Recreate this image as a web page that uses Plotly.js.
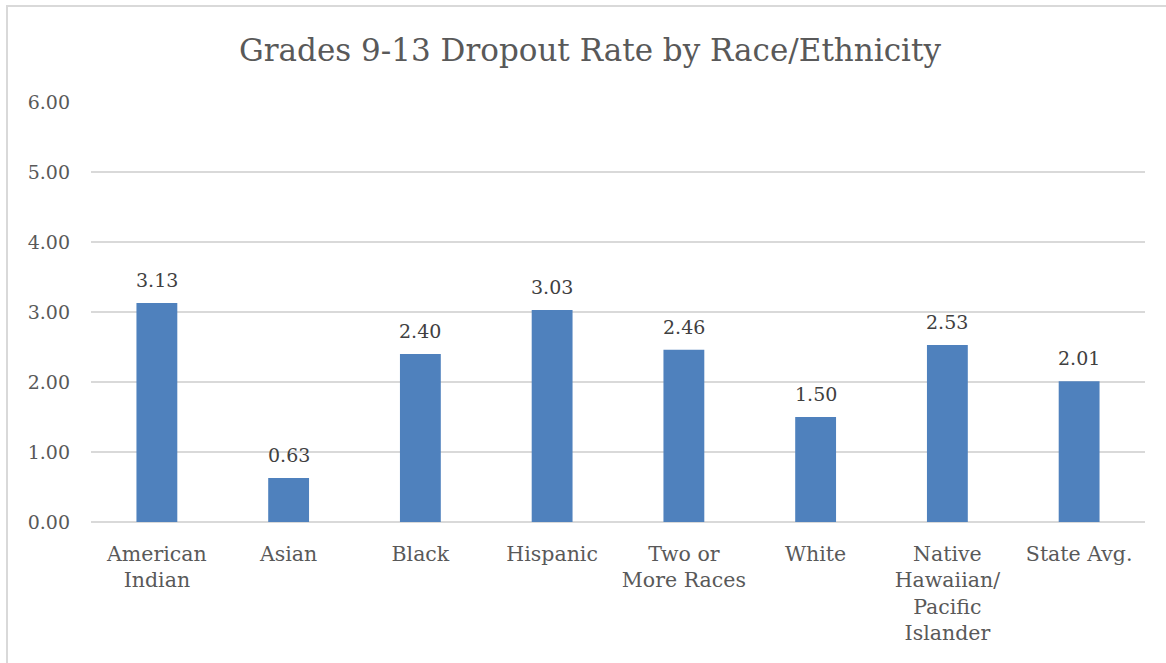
<!DOCTYPE html>
<html>
<head>
<meta charset="utf-8">
<script src="https://cdn.plot.ly/plotly-3.0.1.min.js"></script>
<style>
  html, body { margin: 0; padding: 0; background: #fff; overflow: hidden; }
  #chart { width: 1166px; height: 663px; }
  #frame { position: absolute; left: 6px; top: 5px; width: 2000px; height: 2000px;
           border: 2px solid #d9d9d9; pointer-events: none; }
</style>
</head>
<body>
<div id="chart"></div>
<div id="frame"></div>
<script>
const categories = ["American<br>Indian", "Asian", "Black", "Hispanic", "Two or<br>More Races", "White", "Native<br>Hawaiian/<br>Pacific<br>Islander", "State Avg."];
const dropoutRates = [3.13, 0.63, 2.40, 3.03, 2.46, 1.50, 2.53, 2.01];
const yTickValues = [0, 1, 2, 3, 4, 5, 6];

const FONT = "DejaVu Serif, Cambria, serif";
const TEXT = "#595959";

const trace = {
  type: "bar",
  x: categories,
  y: dropoutRates,
  marker: { color: "#4f81bd" },
  hoverinfo: "x+y"
};

const labelAnnotations = categories.map((c, i) => ({
  x: c,
  y: dropoutRates[i],
  xref: "x",
  yref: "y",
  text: dropoutRates[i].toFixed(2),
  showarrow: false,
  yanchor: "bottom",
  yshift: 10,
  font: { family: FONT, size: 19, color: "#404040" }
}));

const layout = {
  width: 1166,
  height: 663,
  margin: { l: 91, r: 21, t: 102, b: 141 },
  paper_bgcolor: "#ffffff",
  plot_bgcolor: "#ffffff",
  font: { family: FONT, color: TEXT, size: 19 },
  title: {
    text: "Grades 9-13 Dropout Rate by Race/Ethnicity",
    font: { family: FONT, size: 31, color: TEXT },
    x: 0.506, xanchor: "center",
    y: 1 - 50 / 663, yanchor: "middle", yref: "container"
  },
  bargap: 0.69,
  showlegend: false,
  annotations: labelAnnotations,
  xaxis: {
    type: "category",
    showgrid: false,
    showline: false,
    ticks: "",
    ticklabelstandoff: 17,
    tickfont: { family: FONT, size: 20.5, color: TEXT }
  },
  yaxis: {
    range: [0, 6],
    tickvals: yTickValues,
    ticktext: yTickValues.map(v => v.toFixed(2)),
    showgrid: true,
    gridcolor: "#d9d9d9",
    gridwidth: 1.5,
    zeroline: true,
    zerolinecolor: "#d9d9d9",
    zerolinewidth: 2,
    showline: false,
    ticks: "",
    ticklabelstandoff: 20,
    tickfont: { family: FONT, size: 19, color: TEXT }
  }
};

Plotly.newPlot("chart", [trace], layout, { displayModeBar: false, staticPlot: true });
</script>
</body>
</html>
